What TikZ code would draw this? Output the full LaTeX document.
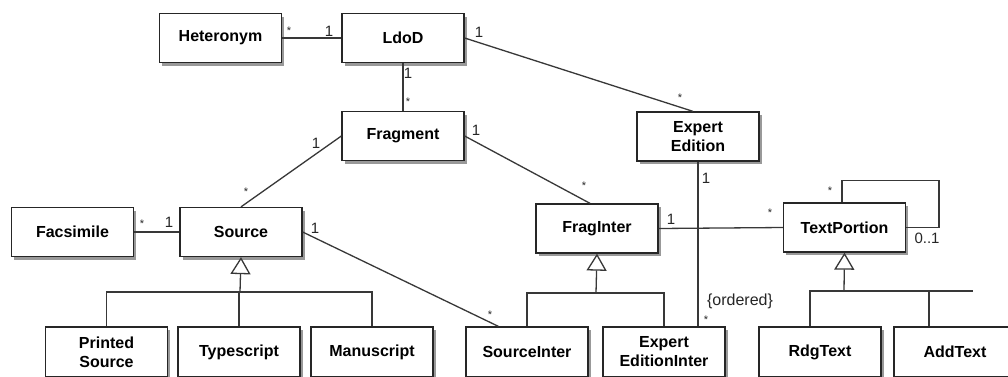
\documentclass[tikz,border=0pt]{standalone}
\usepackage{fontspec}
\setmainfont{Liberation Sans}
\usetikzlibrary{shadows,arrows.meta,calc}
\begin{document}
\begin{tikzpicture}[x=1pt,y=-1pt,
  cls/.style={draw=black!85,line width=1.3pt,fill=white,minimum width=122pt,minimum height=49pt,inner sep=0pt,align=center,
    font=\bfseries\fontsize{16}{19}\selectfont,
    drop shadow={shadow xshift=2.5pt,shadow yshift=-3pt,fill=black,opacity=0.4}},
  conn/.style={draw=black!78,line width=1.3pt},
  gen/.style={draw=black!78,line width=1.3pt,-{Triangle[open,length=17pt,width=20pt,fill=white]}},
  lab/.style={inner sep=0pt,font=\fontsize{15}{17}\selectfont,text=black!85},
  star/.style={inner sep=0pt,font=\fontsize{11}{12}\selectfont,text=black!85}]
\useasboundingbox (0,0) rectangle (1008,376);
\clip (0,0) rectangle (1008,376);
\fill[white] (0,0) rectangle (1008,376);
% classes
\node[cls] (het) at (220.5,38) {Heteronym};
\node[cls] (ldod) at (403,38) {LdoD};
\node[cls] (frag) at (403,136) {Fragment};
\node[cls] (exped) at (698,136.5) {Expert\\Edition};
\node[cls] (facs) at (72.5,232) {Facsimile};
\node[cls] (source) at (241,232) {Source};
\node[cls] (fraginter) at (597,228.5) {FragInter};
\node[cls] (textp) at (844.5,227.5) {TextPortion};
\node[cls,minimum height=50pt] (printed) at (106.5,352) {Printed\\Source};
\node[cls,minimum height=50pt] (typescript) at (239,352) {Typescript};
\node[cls,minimum height=50pt] (manuscript) at (372,352) {Manuscript};
\node[cls,minimum height=50pt] (srcinter) at (527,352) {SourceInter};
\node[cls,minimum height=50pt] (expedinter) at (664,352) {Expert\\EditionInter};
\node[cls,minimum height=50pt] (rdg) at (820,352) {RdgText};
\node[cls,minimum height=50pt] (add) at (955,352) {AddText};
% associations
\draw[conn] (het.east) -- (ldod.west);
\draw[conn] (ldod.south) -- (frag.north);
\draw[conn] (ldod.east) -- ($(exped.north)+(-5,0)$);
\draw[conn] (source.north) -- (frag.west);
\draw[conn] (frag.east) -- ($(fraginter.north)+(-7,0)$);
\draw[conn] (facs.east) -- (source.west);
\draw[conn] (source.east) -- ($(srcinter.north west)+(33,0)$);
\draw[conn] (fraginter.east) -- (textp.west);
\draw[conn] (exped.south) -- (exped.south |- expedinter.north);
\coordinate (loopa) at ($(textp.north)+(-2.5,-22)$);
\draw[conn] ($(textp.north)+(-2.5,0)$) -- (loopa) -- ++(97,0) coordinate (loopb) |- (textp.east);
% generalizations
\coordinate (gs) at (240,292);
\draw[conn] (printed.north) |- (manuscript.north |- gs) -- (manuscript.north);
\draw[conn] (typescript.north) -- (typescript.north |- gs);
\draw[gen] (gs) -- (source.south);
\coordinate (gf) at (596,293);
\draw[conn] (srcinter.north) |- (expedinter.north |- gf) -- (expedinter.north);
\draw[gen] (gf) -- (fraginter.south);
\coordinate (gt) at (844,291);
\coordinate (gtr) at (973,291);
\draw[conn] ($(rdg.north)+(-10,0)$) |- (gtr);
\draw[conn] ($(add.north)+(-26,0)$) -- ++(0,-35);
\draw[gen] (gt) -- (textp.south);
% multiplicities
\node[star] (m1) at (289,31) {*};
\node[lab] (m2) at (329,31) {1};
\node[lab] (m3) at (479,32) {1};
\node[star] (m4) at (680,98) {*};
\node[lab] (m5) at (408,73) {1};
\node[star] (m6) at (408,102) {*};
\node[lab] (m7) at (476,130) {1};
\node[star] (m8) at (584,186) {*};
\node[lab] (m9) at (316,143) {1};
\node[star] (m10) at (246,192) {*};
\node[star] (m11) at (142,224) {*};
\node[lab] (m12) at (169,222) {1};
\node[lab] (m13) at (315,228) {1};
\node[star] (m14) at (490,315) {*};
\node[lab] (m15) at (671,219) {1};
\node[star] (m16) at (770,213) {*};
\node[lab] (m17) at (706,178) {1};
\node[lab,font=\fontsize{16}{18}\selectfont] (ord) at (740,301) {\{ordered\}};
\node[star] (m18) at (706,320) {*};
\node[star] (m19) at (830,191) {*};
\node[lab] (m20) at (927,238) {0..1};
\end{tikzpicture}
\end{document}
